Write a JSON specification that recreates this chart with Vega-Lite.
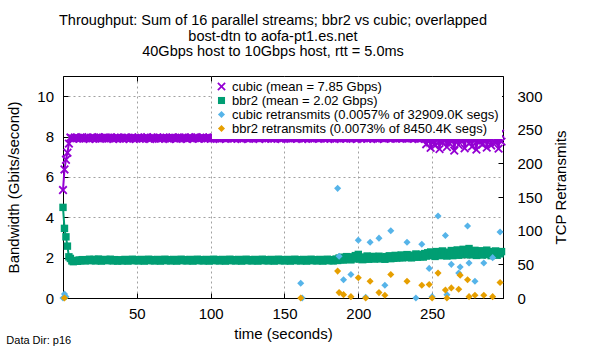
{
  "$schema": "https://vega.github.io/schema/vega-lite/v6.json",
  "background": "white",
  "autosize": {"type": "pad"},
  "padding": {"left": 6, "top": 12, "right": 5, "bottom": 4},
  "title": {"text": "Data Dir: p16", "orient": "bottom", "anchor": "start", "fontSize": 11, "fontWeight": "normal", "color": "black", "offset": 0, "dy": -7},
  "datasets": {
    "bw": [
      {"t":0,"c":5.35,"b":4.49},{"t":1,"c":6.37,"b":3.45},{"t":2,"c":6.85,"b":3.03},{"t":3,"c":7.2,"b":2.57},{"t":4,"c":7.65,"b":2.04},
      {"t":5,"c":7.95,"b":1.96},{"t":6,"c":7.92,"b":1.84},{"t":7,"c":7.89,"b":1.8},{"t":8,"c":7.95,"b":1.83},{"t":9,"c":7.91,"b":1.86},
      {"t":10,"c":7.94,"b":1.82},{"t":11,"c":7.9,"b":1.88},{"t":12,"c":7.93,"b":1.85},{"t":13,"c":7.97,"b":1.9},{"t":14,"c":7.9,"b":1.86},
      {"t":15,"c":7.92,"b":1.84},{"t":16,"c":7.95,"b":1.89},{"t":17,"c":7.91,"b":1.87},{"t":18,"c":7.88,"b":1.92},{"t":19,"c":7.94,"b":1.85},
      {"t":20,"c":7.91,"b":1.88},{"t":21,"c":7.96,"b":1.91},{"t":22,"c":7.9,"b":1.84},{"t":23,"c":7.93,"b":1.87},{"t":24,"c":7.97,"b":1.93},
      {"t":25,"c":7.89,"b":1.86},{"t":26,"c":7.92,"b":1.83},{"t":27,"c":7.94,"b":1.89},{"t":28,"c":7.91,"b":1.87},{"t":29,"c":7.96,"b":1.91},
      {"t":30,"c":7.93,"b":1.85},{"t":31,"c":7.9,"b":1.88},{"t":32,"c":7.95,"b":1.92},{"t":33,"c":7.92,"b":1.86},{"t":34,"c":7.88,"b":1.84},
      {"t":35,"c":7.94,"b":1.9},{"t":36,"c":7.91,"b":1.87},{"t":37,"c":7.96,"b":1.83},{"t":38,"c":7.9,"b":1.89},{"t":39,"c":7.93,"b":1.86},
      {"t":40,"c":7.93,"b":1.84},{"t":41,"c":7.89,"b":1.88},{"t":42,"c":7.95,"b":1.91},{"t":43,"c":7.91,"b":1.86},{"t":44,"c":7.94,"b":1.83},
      {"t":45,"c":7.88,"b":1.89},{"t":46,"c":7.92,"b":1.87},{"t":47,"c":7.96,"b":1.92},{"t":48,"c":7.9,"b":1.85},{"t":49,"c":7.93,"b":1.9},
      {"t":50,"c":7.91,"b":1.86},{"t":51,"c":7.95,"b":1.84},{"t":52,"c":7.89,"b":1.88},{"t":53,"c":7.93,"b":1.91},{"t":54,"c":7.9,"b":1.86},
      {"t":55,"c":7.94,"b":1.83},{"t":56,"c":7.92,"b":1.89},{"t":57,"c":7.97,"b":1.87},{"t":58,"c":7.91,"b":1.92},{"t":59,"c":7.88,"b":1.85},
      {"t":60,"c":7.93,"b":1.9},{"t":61,"c":7.95,"b":1.86},{"t":62,"c":7.9,"b":1.84},{"t":63,"c":7.92,"b":1.88},{"t":64,"c":7.96,"b":1.91},
      {"t":65,"c":7.89,"b":1.86},{"t":66,"c":7.93,"b":1.83},{"t":67,"c":7.91,"b":1.89},{"t":68,"c":7.95,"b":1.87},{"t":69,"c":7.9,"b":1.92},
      {"t":70,"c":7.94,"b":1.85},{"t":71,"c":7.92,"b":1.9},{"t":72,"c":7.88,"b":1.86},{"t":73,"c":7.93,"b":1.84},{"t":74,"c":7.96,"b":1.88},
      {"t":75,"c":7.91,"b":1.91},{"t":76,"c":7.94,"b":1.86},{"t":77,"c":7.89,"b":1.83},{"t":78,"c":7.93,"b":1.89},{"t":79,"c":7.95,"b":1.87},
      {"t":80,"c":7.9,"b":1.92},{"t":81,"c":7.92,"b":1.85},{"t":82,"c":7.96,"b":1.9},{"t":83,"c":7.91,"b":1.86},{"t":84,"c":7.88,"b":1.84},
      {"t":85,"c":7.94,"b":1.88},{"t":86,"c":7.92,"b":1.91},{"t":87,"c":7.95,"b":1.86},{"t":88,"c":7.9,"b":1.83},{"t":89,"c":7.93,"b":1.89},
      {"t":90,"c":7.97,"b":1.87},{"t":91,"c":7.91,"b":1.92},{"t":92,"c":7.89,"b":1.85},{"t":93,"c":7.94,"b":1.9},{"t":94,"c":7.92,"b":1.86},
      {"t":95,"c":7.95,"b":1.84},{"t":96,"c":7.9,"b":1.88},{"t":97,"c":7.93,"b":1.91},{"t":98,"c":7.91,"b":1.86},{"t":99,"c":7.96,"b":1.83},
      {"t":100,"c":7.89,"b":1.89},{"t":101,"c":7.93,"b":1.87},{"t":102,"c":7.95,"b":1.92},{"t":103,"c":7.9,"b":1.85},{"t":104,"c":7.92,"b":1.9},
      {"t":105,"c":7.94,"b":1.86},{"t":106,"c":7.88,"b":1.84},{"t":107,"c":7.93,"b":1.88},{"t":108,"c":7.96,"b":1.91},{"t":109,"c":7.91,"b":1.86},
      {"t":110,"c":7.94,"b":1.83},{"t":111,"c":7.9,"b":1.89},{"t":112,"c":7.92,"b":1.87},{"t":113,"c":7.95,"b":1.92},{"t":114,"c":7.89,"b":1.85},
      {"t":115,"c":7.93,"b":1.9},{"t":116,"c":7.91,"b":1.86},{"t":117,"c":7.96,"b":1.84},{"t":118,"c":7.9,"b":1.88},{"t":119,"c":7.94,"b":1.91},
      {"t":120,"c":7.92,"b":1.86},{"t":121,"c":7.88,"b":1.83},{"t":122,"c":7.93,"b":1.89},{"t":123,"c":7.95,"b":1.87},{"t":124,"c":7.91,"b":1.92},
      {"t":125,"c":7.94,"b":1.85},{"t":126,"c":7.89,"b":1.9},{"t":127,"c":7.93,"b":1.86},{"t":128,"c":7.97,"b":1.84},{"t":129,"c":7.9,"b":1.88},
      {"t":130,"c":7.92,"b":1.91},{"t":131,"c":7.95,"b":1.86},{"t":132,"c":7.91,"b":1.83},{"t":133,"c":7.88,"b":1.89},{"t":134,"c":7.94,"b":1.87},
      {"t":135,"c":7.92,"b":1.92},{"t":136,"c":7.96,"b":1.85},{"t":137,"c":7.9,"b":1.9},{"t":138,"c":7.93,"b":1.86},{"t":139,"c":7.91,"b":1.84},
      {"t":140,"c":7.95,"b":1.88},{"t":141,"c":7.89,"b":1.91},{"t":142,"c":7.93,"b":1.86},{"t":143,"c":7.9,"b":1.83},{"t":144,"c":7.94,"b":1.89},
      {"t":145,"c":7.92,"b":1.87},{"t":146,"c":7.96,"b":1.92},{"t":147,"c":7.91,"b":1.85},{"t":148,"c":7.88,"b":1.9},{"t":149,"c":7.93,"b":1.86},
      {"t":150,"c":7.95,"b":1.84},{"t":151,"c":7.9,"b":1.88},{"t":152,"c":7.92,"b":1.91},{"t":153,"c":7.94,"b":1.86},{"t":154,"c":7.89,"b":1.83},
      {"t":155,"c":7.93,"b":1.89},{"t":156,"c":7.96,"b":1.87},{"t":157,"c":7.91,"b":1.92},{"t":158,"c":7.94,"b":1.85},{"t":159,"c":7.9,"b":1.9},
      {"t":160,"c":7.92,"b":1.86},{"t":161,"c":7.95,"b":1.84},{"t":162,"c":7.88,"b":1.88},{"t":163,"c":7.93,"b":1.91},{"t":164,"c":7.91,"b":1.86},
      {"t":165,"c":7.96,"b":1.83},{"t":166,"c":7.9,"b":1.89},{"t":167,"c":7.94,"b":1.87},{"t":168,"c":7.92,"b":1.92},{"t":169,"c":7.89,"b":1.85},
      {"t":170,"c":7.93,"b":1.9},{"t":171,"c":7.95,"b":1.86},{"t":172,"c":7.91,"b":1.84},{"t":173,"c":7.94,"b":1.88},{"t":174,"c":7.9,"b":1.91},
      {"t":175,"c":7.92,"b":1.86},{"t":176,"c":7.96,"b":1.83},{"t":177,"c":7.89,"b":1.89},{"t":178,"c":7.93,"b":1.87},{"t":179,"c":7.91,"b":1.92},
      {"t":180,"c":7.95,"b":1.85},{"t":181,"c":7.9,"b":1.9},{"t":182,"c":7.94,"b":1.86},{"t":183,"c":7.92,"b":1.84},{"t":184,"c":7.88,"b":1.88},
      {"t":185,"c":7.93,"b":1.93},{"t":186,"c":7.95,"b":1.86},{"t":187,"c":7.9,"b":1.98},{"t":188,"c":7.92,"b":1.9},{"t":189,"c":7.96,"b":2.02},
      {"t":190,"c":7.91,"b":1.88},{"t":191,"c":7.94,"b":1.95},{"t":192,"c":7.89,"b":2.05},{"t":193,"c":7.93,"b":1.92},{"t":194,"c":7.95,"b":1.99},
      {"t":195,"c":7.9,"b":1.89},{"t":196,"c":7.92,"b":2.04},{"t":197,"c":7.96,"b":1.94},{"t":198,"c":7.91,"b":2.1},{"t":199,"c":7.88,"b":1.96},
      {"t":200,"c":7.93,"b":2.16},{"t":201,"c":7.95,"b":1.93},{"t":202,"c":7.9,"b":2.03},{"t":203,"c":7.94,"b":1.9},{"t":204,"c":7.92,"b":2.0},
      {"t":205,"c":7.96,"b":1.95},{"t":206,"c":7.89,"b":2.08},{"t":207,"c":7.93,"b":1.92},{"t":208,"c":7.91,"b":2.02},{"t":209,"c":7.95,"b":1.97},
      {"t":210,"c":7.9,"b":2.06},{"t":211,"c":7.94,"b":1.93},{"t":212,"c":7.92,"b":2.01},{"t":213,"c":7.88,"b":1.96},{"t":214,"c":7.93,"b":2.07},
      {"t":215,"c":7.95,"b":1.94},{"t":216,"c":7.91,"b":2.03},{"t":217,"c":7.94,"b":1.98},{"t":218,"c":7.9,"b":1.92},{"t":219,"c":7.92,"b":2.05},
      {"t":220,"c":7.96,"b":1.99},{"t":221,"c":7.91,"b":2.09},{"t":222,"c":7.89,"b":1.95},{"t":223,"c":7.93,"b":2.03},{"t":224,"c":7.95,"b":1.97},
      {"t":225,"c":7.9,"b":2.11},{"t":226,"c":7.92,"b":1.98},{"t":227,"c":7.94,"b":2.06},{"t":228,"c":7.91,"b":2.0},{"t":229,"c":7.96,"b":2.13},
      {"t":230,"c":7.9,"b":1.99},{"t":231,"c":7.93,"b":2.08},{"t":232,"c":7.95,"b":2.02},{"t":233,"c":7.89,"b":2.15},{"t":234,"c":7.92,"b":2.01},
      {"t":235,"c":7.94,"b":2.07},{"t":236,"c":7.91,"b":1.99},{"t":237,"c":7.95,"b":2.12},{"t":238,"c":7.9,"b":2.04},{"t":239,"c":7.93,"b":2.18},
      {"t":240,"c":7.92,"b":2.02},{"t":241,"c":7.88,"b":2.1},{"t":242,"c":7.94,"b":2.05},{"t":243,"c":7.91,"b":2.16},{"t":244,"c":7.95,"b":2.03},
      {"t":245,"c":7.9,"b":2.2},{"t":246,"c":7.62,"b":2.08},{"t":247,"c":7.85,"b":2.24},{"t":248,"c":7.93,"b":2.1},{"t":249,"c":7.44,"b":2.28},
      {"t":250,"c":7.91,"b":2.12},{"t":251,"c":7.78,"b":2.22},{"t":252,"c":7.55,"b":2.06},{"t":253,"c":7.92,"b":2.3},{"t":254,"c":7.88,"b":2.15},
      {"t":255,"c":7.38,"b":2.26},{"t":256,"c":7.94,"b":2.1},{"t":257,"c":7.7,"b":2.33},{"t":258,"c":7.9,"b":2.14},{"t":259,"c":7.81,"b":2.21},
      {"t":260,"c":7.48,"b":2.08},{"t":261,"c":7.93,"b":2.27},{"t":262,"c":7.64,"b":2.13},{"t":263,"c":7.89,"b":2.35},{"t":264,"c":7.95,"b":2.1},
      {"t":265,"c":7.3,"b":2.24},{"t":266,"c":7.86,"b":2.16},{"t":267,"c":7.92,"b":2.38},{"t":268,"c":7.58,"b":2.12},{"t":269,"c":7.9,"b":2.29},
      {"t":270,"c":7.76,"b":2.18},{"t":271,"c":7.94,"b":2.41},{"t":272,"c":7.42,"b":2.15},{"t":273,"c":7.88,"b":2.32},{"t":274,"c":7.91,"b":2.2},
      {"t":275,"c":7.66,"b":2.45},{"t":276,"c":8.02,"b":2.14},{"t":277,"c":7.5,"b":2.3},{"t":278,"c":7.9,"b":2.19},{"t":279,"c":7.83,"b":2.36},
      {"t":280,"c":7.35,"b":2.11},{"t":281,"c":7.93,"b":2.28},{"t":282,"c":7.72,"b":2.17},{"t":283,"c":7.96,"b":2.34},{"t":284,"c":7.6,"b":2.13},
      {"t":285,"c":7.88,"b":2.26},{"t":286,"c":8.05,"b":2.2},{"t":287,"c":7.45,"b":2.37},{"t":288,"c":7.91,"b":2.15},{"t":289,"c":7.8,"b":2.3},
      {"t":290,"c":7.56,"b":2.1},{"t":291,"c":7.94,"b":2.27},{"t":292,"c":8.1,"b":2.18},{"t":293,"c":7.68,"b":2.33},{"t":294,"c":7.9,"b":2.12},
      {"t":295,"c":7.4,"b":2.25},{"t":296,"c":8.14,"b":2.19},{"t":297,"c":7.75,"b":2.3}
    ],
    "rt": [
      {"t":0,"key":"cr","value":0},{"t":1,"key":"cr","value":6},{"t":2,"key":"cr","value":2},
      {"t":161,"key":"cr","value":22},{"t":162,"key":"cr","value":0},{"t":186,"key":"cr","value":163},{"t":187,"key":"cr","value":62},
      {"t":190,"key":"cr","value":27},{"t":195,"key":"cr","value":35},{"t":200,"key":"cr","value":86},{"t":205,"key":"cr","value":1},
      {"t":208,"key":"cr","value":83},{"t":214,"key":"cr","value":89},{"t":218,"key":"cr","value":19},{"t":222,"key":"cr","value":100},
      {"t":233,"key":"cr","value":83},{"t":239,"key":"cr","value":0},{"t":243,"key":"cr","value":80},{"t":248,"key":"cr","value":44},
      {"t":250,"key":"cr","value":2},{"t":254,"key":"cr","value":122},{"t":259,"key":"cr","value":93},{"t":260,"key":"cr","value":5},
      {"t":263,"key":"cr","value":50},{"t":268,"key":"cr","value":37},{"t":269,"key":"cr","value":46},{"t":274,"key":"cr","value":107},
      {"t":275,"key":"cr","value":52},{"t":279,"key":"cr","value":25},{"t":285,"key":"cr","value":52},{"t":291,"key":"cr","value":60},
      {"t":296,"key":"cr","value":98},
      {"t":1,"key":"br","value":0},{"t":161,"key":"br","value":0},{"t":186,"key":"br","value":40},{"t":187,"key":"br","value":8},
      {"t":190,"key":"br","value":5},{"t":195,"key":"br","value":2},{"t":200,"key":"br","value":30},{"t":205,"key":"br","value":0},
      {"t":208,"key":"br","value":25},{"t":214,"key":"br","value":8},{"t":218,"key":"br","value":4},{"t":222,"key":"br","value":35},
      {"t":233,"key":"br","value":25},{"t":243,"key":"br","value":19},{"t":248,"key":"br","value":20},{"t":250,"key":"br","value":0},
      {"t":254,"key":"br","value":37},{"t":259,"key":"br","value":12},{"t":260,"key":"br","value":0},{"t":263,"key":"br","value":15},
      {"t":268,"key":"br","value":13},{"t":269,"key":"br","value":34},{"t":274,"key":"br","value":27},{"t":275,"key":"br","value":2},
      {"t":279,"key":"br","value":4},{"t":285,"key":"br","value":4},{"t":291,"key":"br","value":2},{"t":296,"key":"br","value":23}
    ]
  },
  "vconcat": [
    {
      "width": 440,
      "height": 222,
      "title": {
        "text": ["Throughput: Sum of 16 parallel streams; bbr2 vs cubic; overlapped", "bost-dtn to aofa-pt1.es.net", "40Gbps host to 10Gbps host, rtt = 5.0ms"],
        "anchor": "middle", "frame": "group", "offset": 16, "fontSize": 14.5, "lineHeight": 15.5, "fontWeight": "normal", "color": "black", "dx": -10
      },
      "layer": [
        {
          "data": {"name": "bw"},
          "transform": [{"fold": ["c", "b"], "as": ["key", "value"]}],
          "mark": {"type": "line", "strokeWidth": 2},
          "encoding": {
            "x": {"field": "t", "type": "quantitative", "scale": {"domain": [0, 298], "nice": false, "zero": false},
                  "axis": {"orient": "bottom", "values": [50, 100, 150, 200, 250], "title": "time (seconds)", "grid": true, "labelPadding": 13.5, "titlePadding": 5, "labelFlush": false}},
            "y": {"field": "value", "type": "quantitative", "scale": {"domain": [0, 11], "nice": false},
                  "axis": {"orient": "left", "values": [0, 2, 4, 6, 8, 10], "title": "Bandwidth (Gbits/second)", "grid": true, "labelPadding": 14.5, "titlePadding": 15}},
            "color": {"field": "key", "type": "nominal",
                      "scale": {"domain": ["c", "b", "cr", "br"], "range": ["#9400d3", "#009e73", "#56b4e9", "#e69f00"]},
                      "legend": {"title": null, "labelExpr": "datum.label == 'c' ? 'cubic (mean = 7.85 Gbps)' : datum.label == 'b' ? 'bbr2 (mean = 2.02 Gbps)' : datum.label == 'cr' ? 'cubic retransmits (0.0057% of 32909.0K segs)' : 'bbr2 retransmits (0.0073% of 8450.4K segs)'"}}
          }
        },
        {
          "data": {"name": "bw"},
          "transform": [{"fold": ["c", "b"], "as": ["key", "value"]}],
          "mark": {"type": "point", "filled": true, "opacity": 1, "size": 55},
          "encoding": {
            "x": {"field": "t", "type": "quantitative", "axis": {"orient": "top", "values": [50, 100, 150, 200, 250], "labels": false, "title": null, "grid": false, "domain": false}},
            "y": {"field": "value", "type": "quantitative", "scale": {"domain": [0, 11], "nice": false}, "axis": null},
            "color": {"field": "key", "type": "nominal",
                      "legend": {"title": null, "labelExpr": "datum.label == 'c' ? 'cubic (mean = 7.85 Gbps)' : datum.label == 'b' ? 'bbr2 (mean = 2.02 Gbps)' : datum.label == 'cr' ? 'cubic retransmits (0.0057% of 32909.0K segs)' : 'bbr2 retransmits (0.0073% of 8450.4K segs)'"}},
            "shape": {"field": "key", "type": "nominal",
                      "scale": {"domain": ["c", "b", "cr", "br"], "range": ["M-1.2,-0.85L-0.85,-1.2L0,-0.35L0.85,-1.2L1.2,-0.85L0.35,0L1.2,0.85L0.85,1.2L0,0.35L-0.85,1.2L-1.2,0.85L-0.35,0Z", "square", "diamond", "diamond"]},
                      "legend": {"title": null, "labelExpr": "datum.label == 'c' ? 'cubic (mean = 7.85 Gbps)' : datum.label == 'b' ? 'bbr2 (mean = 2.02 Gbps)' : datum.label == 'cr' ? 'cubic retransmits (0.0057% of 32909.0K segs)' : 'bbr2 retransmits (0.0073% of 8450.4K segs)'"}}
          }
        },
        {
          "data": {"name": "rt"},
          "mark": {"type": "point", "filled": true, "opacity": 1, "size": 50},
          "encoding": {
            "x": {"field": "t", "type": "quantitative", "axis": null},
            "y": {"field": "value", "type": "quantitative", "scale": {"domain": [0, 330], "nice": false},
                  "axis": {"orient": "right", "values": [0, 50, 100, 150, 200, 250, 300], "title": "TCP Retransmits", "grid": false, "labelPadding": 19, "titlePadding": 11, "titleAngle": 270, "titleBaseline": "top"}},
            "color": {"field": "key", "type": "nominal",
                      "legend": {"title": null, "labelExpr": "datum.label == 'c' ? 'cubic (mean = 7.85 Gbps)' : datum.label == 'b' ? 'bbr2 (mean = 2.02 Gbps)' : datum.label == 'cr' ? 'cubic retransmits (0.0057% of 32909.0K segs)' : 'bbr2 retransmits (0.0073% of 8450.4K segs)'"}},
            "shape": {"field": "key", "type": "nominal",
                      "legend": {"title": null, "labelExpr": "datum.label == 'c' ? 'cubic (mean = 7.85 Gbps)' : datum.label == 'b' ? 'bbr2 (mean = 2.02 Gbps)' : datum.label == 'cr' ? 'cubic retransmits (0.0057% of 32909.0K segs)' : 'bbr2 retransmits (0.0073% of 8450.4K segs)'"}}
          }
        }
      ],
      "resolve": {"scale": {"y": "independent"}, "axis": {"x": "independent"}}
    }
  ],
  "config": {
    "font": "Liberation Sans",
    "view": {"stroke": "black", "strokeWidth": 1},
    "axis": {
      "labelFont": "Liberation Sans", "titleFont": "Liberation Sans",
      "labelFontSize": 15, "titleFontSize": 15, "titleFontWeight": "normal",
      "labelColor": "black", "titleColor": "black",
      "domainColor": "black", "domainWidth": 1, "tickColor": "black", "tickSize": -5, "tickWidth": 1,
      "gridColor": "#a0a0a0", "gridDash": [2, 3], "gridOpacity": 1, "gridWidth": 1
    },
    "legend": {
      "orient": "top-right", "offset": 1, "fillColor": "white", "labelFont": "Liberation Sans", "labelFontSize": 13,
      "labelColor": "black", "labelLimit": 0, "symbolSize": 50, "rowPadding": -1, "padding": 3, "symbolStrokeWidth": 0
    },
    "title": {"font": "Liberation Sans"}
  }
}
